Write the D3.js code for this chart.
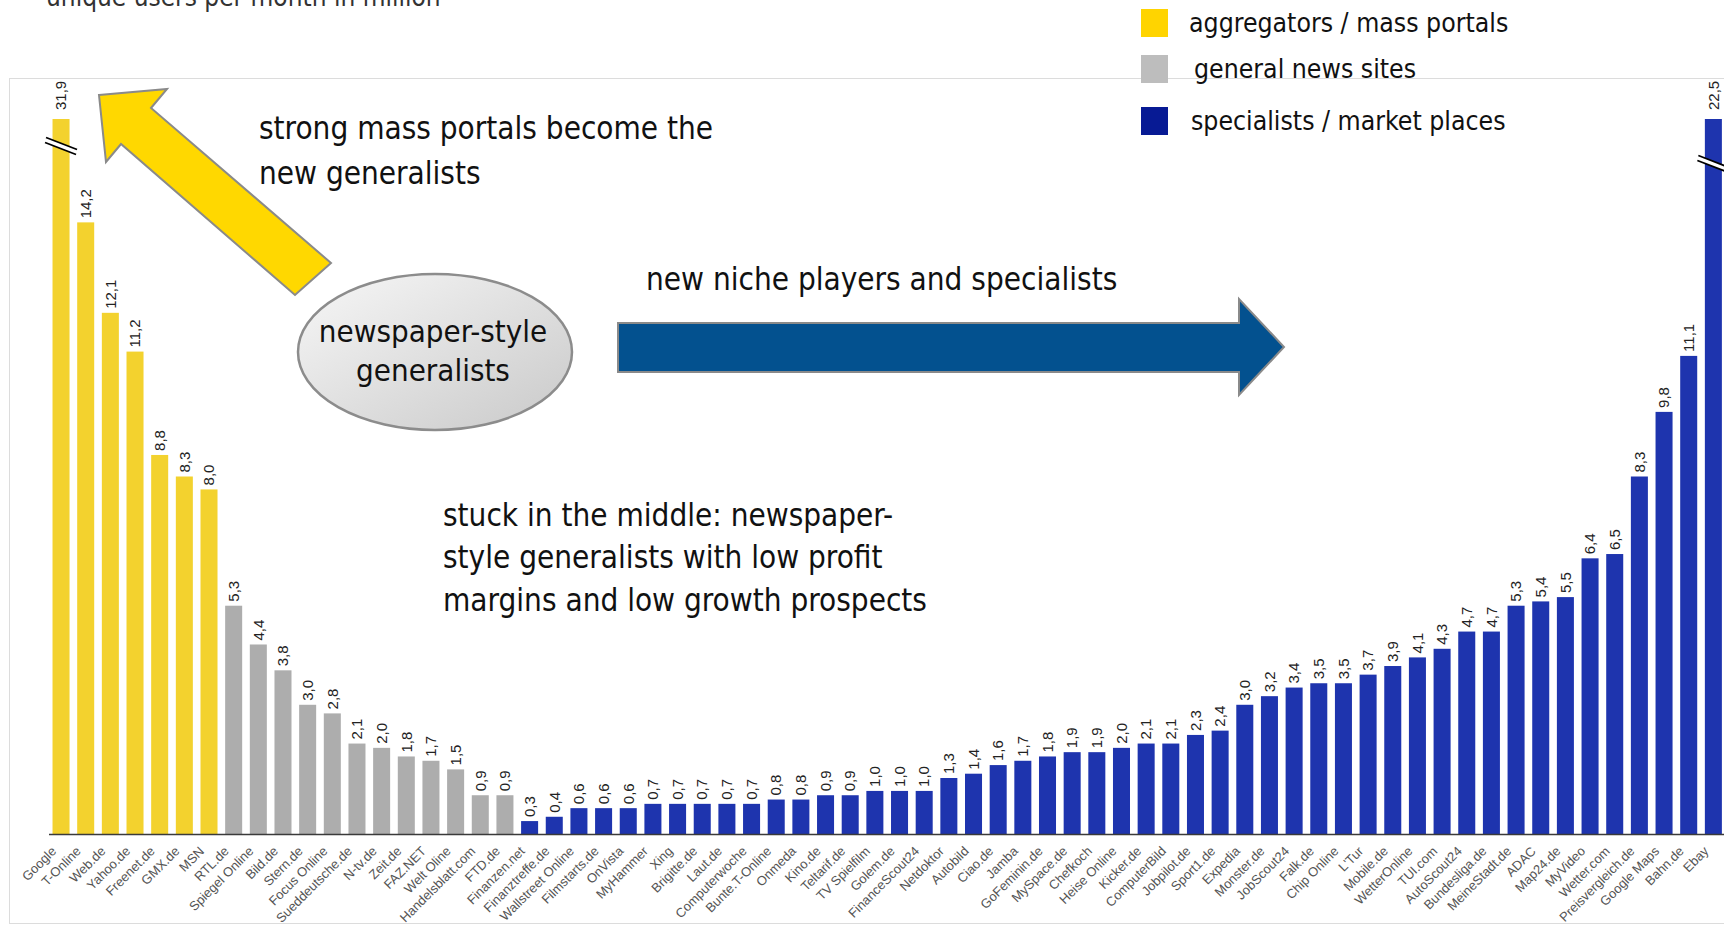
<!DOCTYPE html>
<html>
<head>
<meta charset="utf-8">
<script src="https://cdn.jsdelivr.net/npm/d3@7"></script>
<style>
  html, body { margin: 0; padding: 0; background: #fff; }
  svg { display: block; }
  .tah { font-family: "DejaVu Sans Condensed", "DejaVu Sans", sans-serif; font-stretch: condensed; }
</style>
</head>
<body>
<script>
// ---------- DATA ----------
const aggregatorNames = ["Google","T-Online","Web.de","Yahoo.de","Freenet.de","GMX.de","MSN"];
const aggregatorValues = [31.9,14.2,12.1,11.2,8.8,8.3,8.0];

const newsNames = ["RTL.de","Spiegel Online","Bild.de","Stern.de","Focus Online","Sueddeutsche.de","N-tv.de","Zeit.de","FAZ.NET","Welt Oline","Handelsblatt.com","FTD.de"];
const newsValues = [5.3,4.4,3.8,3.0,2.8,2.1,2.0,1.8,1.7,1.5,0.9,0.9];

const specialistNames = ["Finanzen.net","Finanztreffe.de","Wallstreet Online","Filmstarts.de","OnVista","MyHammer","Xing","Brigitte.de","Laut.de","Computerwoche","Bunte.T-Online","Onmeda","Kino.de","Teltarif.de","TV Spielfilm","Golem.de","FinanceScout24","Netdoktor","Autobild","Ciao.de","Jamba","GoFeminin.de","MySpace.de","Chefkoch","Heise Online","Kicker.de","ComputerBild","Jobpilot.de","Sport1.de","Expedia","Monster.de","JobScout24","Falk.de","Chip Online","L'Tur","Mobile.de","WetterOnline","TUI.com","AutoScout24","Bundesliga.de","MeineStadt.de","ADAC","Map24.de","MyVideo","Wetter.com","Preisvergleich.de","Google Maps","Bahn.de","Ebay"];
const specialistValues = [0.3,0.4,0.6,0.6,0.6,0.7,0.7,0.7,0.7,0.7,0.8,0.8,0.9,0.9,1.0,1.0,1.0,1.3,1.4,1.6,1.7,1.8,1.9,1.9,2.0,2.1,2.1,2.3,2.4,3.0,3.2,3.4,3.5,3.5,3.7,3.9,4.1,4.3,4.7,4.7,5.3,5.4,5.5,6.4,6.5,8.3,9.8,11.1,22.5];

const groupKeys = ["aggregators","news","specialists"];
const legendLabels = ["aggregators / mass portals","general news sites","specialists / market places"];
const axisCap = 16.6; // bars above this value are drawn broken
const yAxisTitle = "unique users per month in million";

// ---------- BUILD ----------
const rows = [];
aggregatorNames.forEach((n,i)=>rows.push({name:n, value:aggregatorValues[i], group:"aggregators"}));
newsNames.forEach((n,i)=>rows.push({name:n, value:newsValues[i], group:"news"}));
specialistNames.forEach((n,i)=>rows.push({name:n, value:specialistValues[i], group:"specialists"}));

const W = 1724, H = 925;
const baseline = 834, topY = 119;

const svg = d3.select("body").append("svg").attr("width", W).attr("height", H);

const defs = svg.append("defs");
const grad = defs.append("linearGradient").attr("id","ellGrad").attr("x1","0").attr("y1","0").attr("x2","1").attr("y2","1");
grad.append("stop").attr("offset","0%").attr("stop-color","#f7f7f7");
grad.append("stop").attr("offset","100%").attr("stop-color","#c9c9c9");

const barColor = d3.scaleOrdinal().domain(groupKeys).range(["#F3D22E","#ADADAD","#1E34AE"]);
const legendColor = d3.scaleOrdinal().domain(groupKeys).range(["#FFD400","#BDBDBD","#071A94"]);

const x = d3.scaleBand().domain(rows.map(d=>d.name)).range([48.7, 1725.7]).paddingInner(0.31).paddingOuter(0.155);
const y = d3.scaleLinear().domain([0, axisCap]).range([baseline, topY]);

// frame
svg.append("rect").attr("x",9.5).attr("y",78.5).attr("width",1720).attr("height",845)
  .attr("fill","none").attr("stroke","#dcdcdc").attr("stroke-width",1);

// bars
svg.append("g").selectAll("rect").data(rows).join("rect")
  .attr("x", d=>x(d.name))
  .attr("width", x.bandwidth())
  .attr("y", d=>y(Math.min(d.value, axisCap)))
  .attr("height", d=>baseline - y(Math.min(d.value, axisCap)))
  .attr("fill", d=>barColor(d.group));

// x axis line
svg.append("line").attr("x1",49).attr("x2",W).attr("y1",baseline+0.5).attr("y2",baseline+0.5)
  .attr("stroke","#3a3a3a").attr("stroke-width",1.5);

// value labels
svg.append("g").selectAll("text").data(rows).join("text")
  .attr("transform", d=>`translate(${x(d.name)+x.bandwidth()/2},${y(Math.min(d.value, axisCap)) - (d.value>axisCap?9:4)}) rotate(-90)`)
  .attr("dy","0.35em")
  .attr("font-family","'Liberation Sans', Arial, sans-serif")
  .attr("font-size",15)
  .attr("fill","#222")
  .text(d=>d3.format(".1f")(d.value).replace(".", ","));

// category labels
svg.append("g").selectAll("text").data(rows).join("text")
  .attr("transform", d=>`translate(${x(d.name)+x.bandwidth()/2 - 4},${baseline+18}) rotate(-45)`)
  .attr("text-anchor","end")
  .attr("font-family","'Liberation Sans', Arial, sans-serif")
  .attr("font-size",13)
  .attr("fill","#555")
  .text(d=>d.name);

// break marks on capped bars
const broken = rows.filter(d=>d.value>axisCap);
const brk = svg.append("g").selectAll("g").data(broken).join("g")
  .attr("transform", (d,i)=>`translate(${x(d.name)+x.bandwidth()/2},${y(axisCap) + (i===0?27:45)})`);
brk.append("line").attr("x1",-16).attr("y1",-6).attr("x2",16).attr("y2",6).attr("stroke","#fff").attr("stroke-width",5);
brk.append("line").attr("x1",-15).attr("y1",-8.5).attr("x2",16).attr("y2",3.5).attr("stroke","#000").attr("stroke-width",1.8);
brk.append("line").attr("x1",-16).attr("y1",-3.5).attr("x2",15).attr("y2",8.5).attr("stroke","#000").attr("stroke-width",1.8);

// axis title (partially cut at top, as in the reference)
svg.append("text").attr("class","tah").attr("x",46).attr("y",6).attr("font-size",26).attr("fill","#333").text(yAxisTitle);

// legend
const lg = svg.append("g").selectAll("g").data(groupKeys).join("g");
const legendY = [9, 55, 107];
const legendTextX = [1189, 1194, 1191];
lg.append("rect").attr("x",1141).attr("y",(d,i)=>legendY[i]).attr("width",27).attr("height",28).attr("fill",d=>legendColor(d));
lg.append("text").attr("class","tah").attr("x",(d,i)=>legendTextX[i]).attr("y",(d,i)=>legendY[i]+23)
  .attr("font-size",26.4).attr("fill","#111").text((d,i)=>legendLabels[i]);

// yellow arrow
svg.append("polygon")
  .attr("points","99,95 167,89 151,108 331,263 295,295 121,144 106,162")
  .attr("fill","#FFD800").attr("stroke","#8a8a8a").attr("stroke-width",2).attr("stroke-linejoin","miter");

// blue arrow
svg.append("polygon")
  .attr("points","618,323 1239,323 1239,299 1284,347 1239,395 1239,372 618,372")
  .attr("fill","#03518F").attr("stroke","#8a8a8a").attr("stroke-width",2);

// ellipse
svg.append("ellipse").attr("cx",435).attr("cy",352).attr("rx",137).attr("ry",78)
  .attr("fill","url(#ellGrad)").attr("stroke","#8c8c8c").attr("stroke-width",2.5);
svg.append("text").attr("class","tah").attr("x",433).attr("y",342).attr("text-anchor","middle").attr("font-size",31).attr("fill","#111").text("newspaper-style");
svg.append("text").attr("class","tah").attr("x",433).attr("y",381).attr("text-anchor","middle").attr("font-size",31).attr("fill","#111").text("generalists");

// annotations
const ann = [
  {t:"strong mass portals become the", x:259, y:139},
  {t:"new generalists", x:259, y:184},
  {t:"new niche players and specialists", x:646, y:290},
  {t:"stuck in the middle: newspaper-", x:443, y:526},
  {t:"style generalists with low profit", x:443, y:568},
  {t:"margins and low growth prospects", x:443, y:611}
];
svg.append("g").selectAll("text").data(ann).join("text").attr("class","tah")
  .attr("x",d=>d.x).attr("y",d=>d.y).attr("font-size",31.2).attr("fill","#111").text(d=>d.t);
</script>
</body>
</html>
